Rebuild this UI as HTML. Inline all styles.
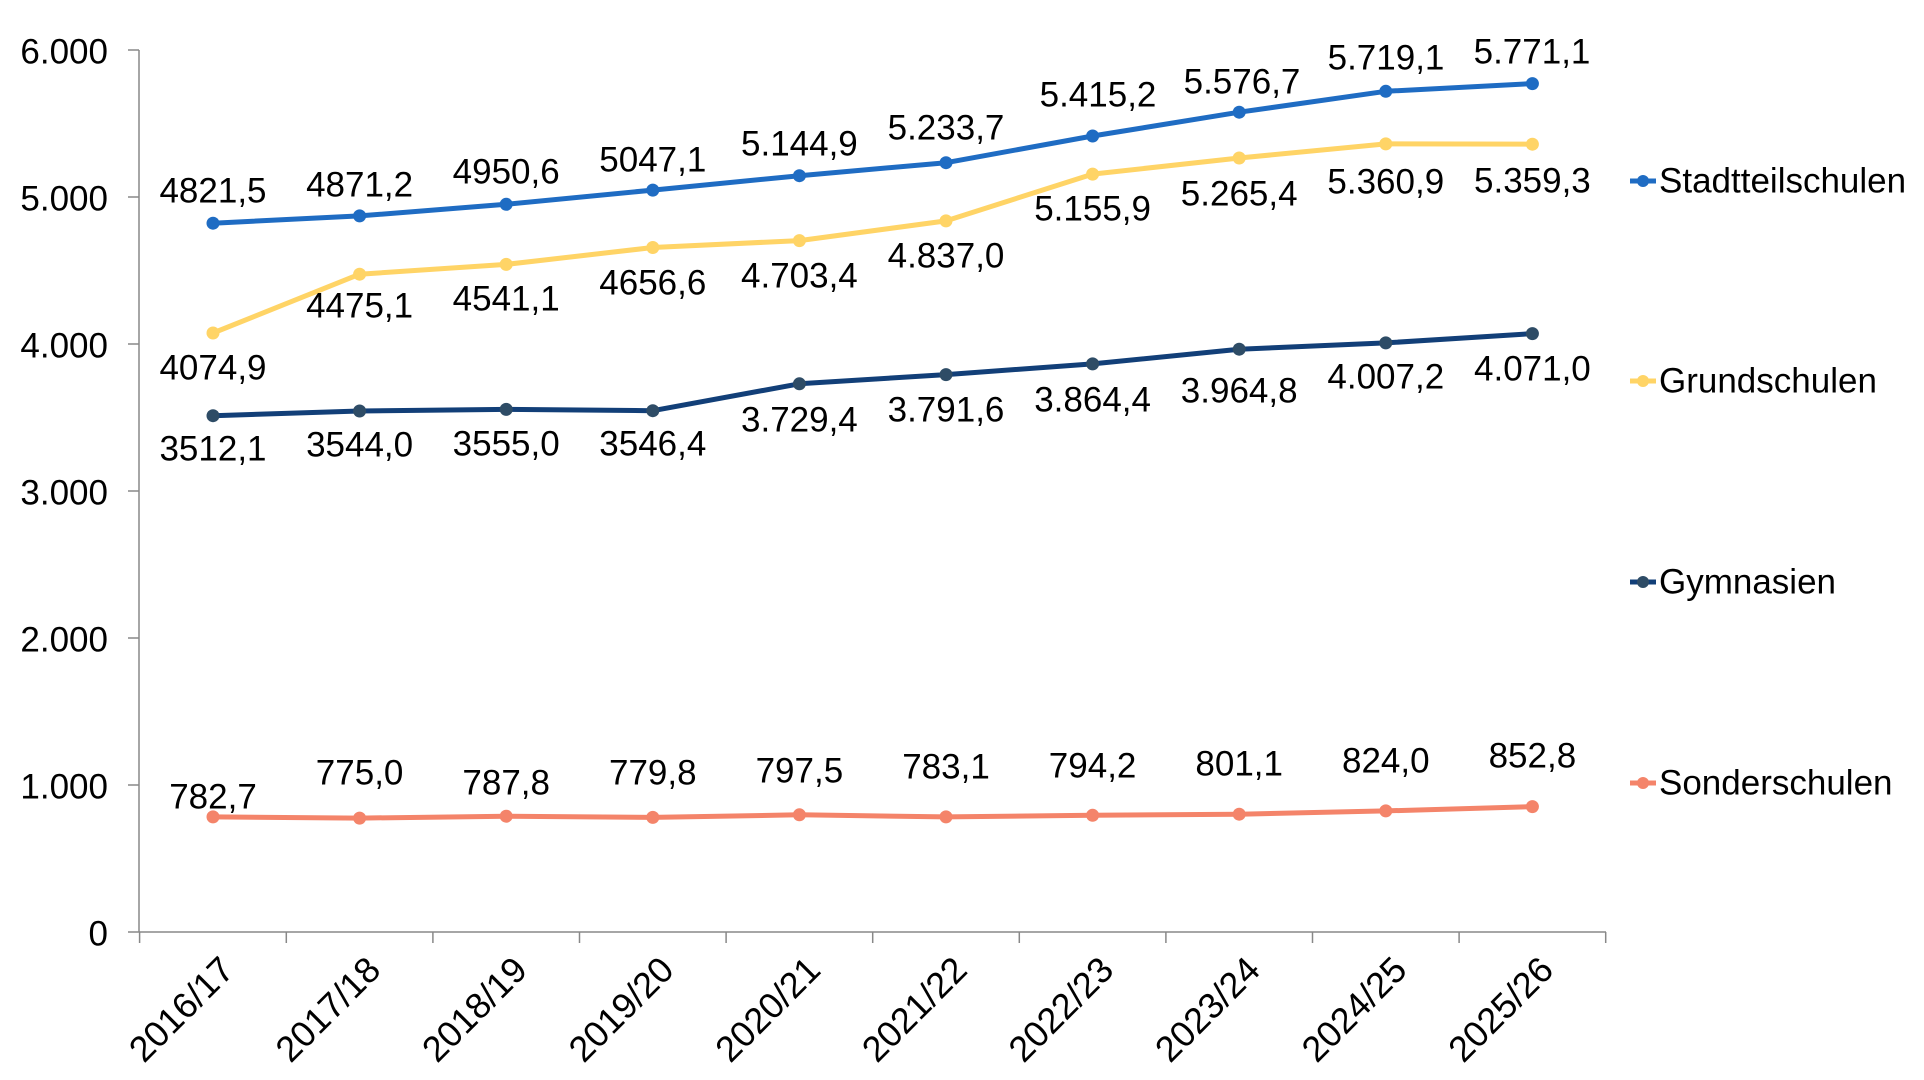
<!DOCTYPE html>
<html><head><meta charset="utf-8"><style>
html,body{margin:0;padding:0;background:#fff;}
svg{display:block;font-family:"Liberation Sans",Arial,sans-serif;}
</style></head><body>
<svg width="1924" height="1080" viewBox="0 0 1924 1080" xmlns="http://www.w3.org/2000/svg">
<g stroke="#888" stroke-width="1.5" fill="none">
<line x1="139" y1="50" x2="139" y2="932"/>
<line x1="139" y1="932" x2="1606" y2="932"/>
<line x1="128" y1="50" x2="139" y2="50"/><line x1="128" y1="197" x2="139" y2="197"/><line x1="128" y1="344" x2="139" y2="344"/><line x1="128" y1="491" x2="139" y2="491"/><line x1="128" y1="638" x2="139" y2="638"/><line x1="128" y1="785" x2="139" y2="785"/><line x1="128" y1="932" x2="139" y2="932"/>
<line x1="139.6" y1="932" x2="139.6" y2="943"/><line x1="286.3" y1="932" x2="286.3" y2="943"/><line x1="432.9" y1="932" x2="432.9" y2="943"/><line x1="579.5" y1="932" x2="579.5" y2="943"/><line x1="726.1" y1="932" x2="726.1" y2="943"/><line x1="872.7" y1="932" x2="872.7" y2="943"/><line x1="1019.3" y1="932" x2="1019.3" y2="943"/><line x1="1165.9" y1="932" x2="1165.9" y2="943"/><line x1="1312.5" y1="932" x2="1312.5" y2="943"/><line x1="1459.1" y1="932" x2="1459.1" y2="943"/><line x1="1605.7" y1="932" x2="1605.7" y2="943"/>
</g>
<g font-size="35" text-anchor="end" dominant-baseline="central" fill="#000">
<text x="108" y="52">6.000</text><text x="108" y="199">5.000</text><text x="108" y="346">4.000</text><text x="108" y="493">3.000</text><text x="108" y="640">2.000</text><text x="108" y="787">1.000</text><text x="108" y="934">0</text>
</g>
<g font-size="36" text-anchor="end" fill="#000">
<text transform="translate(236,972) rotate(-45)">2016/17</text>
<text transform="translate(382.6,972) rotate(-45)">2017/18</text>
<text transform="translate(529.2,972) rotate(-45)">2018/19</text>
<text transform="translate(675.8,972) rotate(-45)">2019/20</text>
<text transform="translate(822.4,972) rotate(-45)">2020/21</text>
<text transform="translate(969,972) rotate(-45)">2021/22</text>
<text transform="translate(1115.6,972) rotate(-45)">2022/23</text>
<text transform="translate(1262.2,972) rotate(-45)">2023/24</text>
<text transform="translate(1408.8,972) rotate(-45)">2024/25</text>
<text transform="translate(1555.4,972) rotate(-45)">2025/26</text>
</g>
<polyline fill="none" stroke="#1f6cc3" stroke-width="5" stroke-linejoin="round" points="213,223.2 359.6,215.9 506.2,204.3 652.8,190.1 799.4,175.7 946,162.7 1092.6,136 1239.2,112.2 1385.8,91.3 1532.4,83.6"/>
<g fill="#1f6cc3"><circle cx="213" cy="223.2" r="6.5"/><circle cx="359.6" cy="215.9" r="6.5"/><circle cx="506.2" cy="204.3" r="6.5"/><circle cx="652.8" cy="190.1" r="6.5"/><circle cx="799.4" cy="175.7" r="6.5"/><circle cx="946" cy="162.7" r="6.5"/><circle cx="1092.6" cy="136" r="6.5"/><circle cx="1239.2" cy="112.2" r="6.5"/><circle cx="1385.8" cy="91.3" r="6.5"/><circle cx="1532.4" cy="83.6" r="6.5"/></g>
<polyline fill="none" stroke="#ffd466" stroke-width="5" stroke-linejoin="round" points="213,333 359.6,274.2 506.2,264.4 652.8,247.5 799.4,240.6 946,220.9 1092.6,174.1 1239.2,158 1385.8,143.9 1532.4,144.2"/>
<g fill="#ffd466"><circle cx="213" cy="333" r="6.5"/><circle cx="359.6" cy="274.2" r="6.5"/><circle cx="506.2" cy="264.4" r="6.5"/><circle cx="652.8" cy="247.5" r="6.5"/><circle cx="799.4" cy="240.6" r="6.5"/><circle cx="946" cy="220.9" r="6.5"/><circle cx="1092.6" cy="174.1" r="6.5"/><circle cx="1239.2" cy="158" r="6.5"/><circle cx="1385.8" cy="143.9" r="6.5"/><circle cx="1532.4" cy="144.2" r="6.5"/></g>
<polyline fill="none" stroke="#123f78" stroke-width="5" stroke-linejoin="round" points="213,415.7 359.6,411 506.2,409.4 652.8,410.7 799.4,383.8 946,374.6 1092.6,363.9 1239.2,349.2 1385.8,342.9 1532.4,333.6"/>
<g fill="#2e4c66"><circle cx="213" cy="415.7" r="6.5"/><circle cx="359.6" cy="411" r="6.5"/><circle cx="506.2" cy="409.4" r="6.5"/><circle cx="652.8" cy="410.7" r="6.5"/><circle cx="799.4" cy="383.8" r="6.5"/><circle cx="946" cy="374.6" r="6.5"/><circle cx="1092.6" cy="363.9" r="6.5"/><circle cx="1239.2" cy="349.2" r="6.5"/><circle cx="1385.8" cy="342.9" r="6.5"/><circle cx="1532.4" cy="333.6" r="6.5"/></g>
<polyline fill="none" stroke="#f4846a" stroke-width="5" stroke-linejoin="round" points="213,816.9 359.6,818.1 506.2,816.2 652.8,817.4 799.4,814.8 946,816.9 1092.6,815.3 1239.2,814.2 1385.8,810.9 1532.4,806.6"/>
<g fill="#f4846a"><circle cx="213" cy="816.9" r="6.5"/><circle cx="359.6" cy="818.1" r="6.5"/><circle cx="506.2" cy="816.2" r="6.5"/><circle cx="652.8" cy="817.4" r="6.5"/><circle cx="799.4" cy="814.8" r="6.5"/><circle cx="946" cy="816.9" r="6.5"/><circle cx="1092.6" cy="815.3" r="6.5"/><circle cx="1239.2" cy="814.2" r="6.5"/><circle cx="1385.8" cy="810.9" r="6.5"/><circle cx="1532.4" cy="806.6" r="6.5"/></g>
<g font-size="35" text-anchor="middle" dominant-baseline="central" fill="#000">
<text x="213" y="191">4821,5</text><text x="359.6" y="185">4871,2</text><text x="506.2" y="172">4950,6</text><text x="652.8" y="160">5047,1</text><text x="799.4" y="144">5.144,9</text><text x="946" y="128">5.233,7</text><text x="1098" y="95">5.415,2</text><text x="1242" y="82">5.576,7</text><text x="1386" y="58">5.719,1</text><text x="1532" y="52">5.771,1</text>
<text x="213" y="368">4074,9</text><text x="359.6" y="306">4475,1</text><text x="506.2" y="299">4541,1</text><text x="652.8" y="283">4656,6</text><text x="799.4" y="276">4.703,4</text><text x="946" y="256">4.837,0</text><text x="1092.6" y="209">5.155,9</text><text x="1239.2" y="194">5.265,4</text><text x="1385.8" y="182">5.360,9</text><text x="1532.4" y="181">5.359,3</text>
<text x="213" y="449">3512,1</text><text x="359.6" y="445">3544,0</text><text x="506.2" y="444">3555,0</text><text x="652.8" y="444">3546,4</text><text x="799.4" y="420">3.729,4</text><text x="946" y="410">3.791,6</text><text x="1092.6" y="400">3.864,4</text><text x="1239.2" y="391">3.964,8</text><text x="1385.8" y="377">4.007,2</text><text x="1532.4" y="369">4.071,0</text>
<text x="213" y="797">782,7</text><text x="359.6" y="773">775,0</text><text x="506.2" y="783">787,8</text><text x="652.8" y="773">779,8</text><text x="799.4" y="771">797,5</text><text x="946" y="767">783,1</text><text x="1092.6" y="766">794,2</text><text x="1239.2" y="764">801,1</text><text x="1385.8" y="761">824,0</text><text x="1532.4" y="756">852,8</text>
</g>
<g stroke-width="5">
<line x1="1630" y1="181" x2="1656" y2="181" stroke="#1f6cc3"/><circle cx="1643" cy="181" r="6" fill="#1f6cc3"/>
<line x1="1630" y1="381" x2="1656" y2="381" stroke="#ffd466"/><circle cx="1643" cy="381" r="6" fill="#ffd466"/>
<line x1="1630" y1="582" x2="1656" y2="582" stroke="#123f78"/><circle cx="1643" cy="582" r="6" fill="#2e4c66"/>
<line x1="1630" y1="783" x2="1656" y2="783" stroke="#f4846a"/><circle cx="1643" cy="783" r="6" fill="#f4846a"/>
</g>
<g font-size="35" dominant-baseline="central" fill="#000">
<text x="1659" y="181">Stadtteilschulen</text><text x="1659" y="381">Grundschulen</text><text x="1659" y="582">Gymnasien</text><text x="1659" y="783">Sonderschulen</text>
</g>
</svg>
</body></html>
